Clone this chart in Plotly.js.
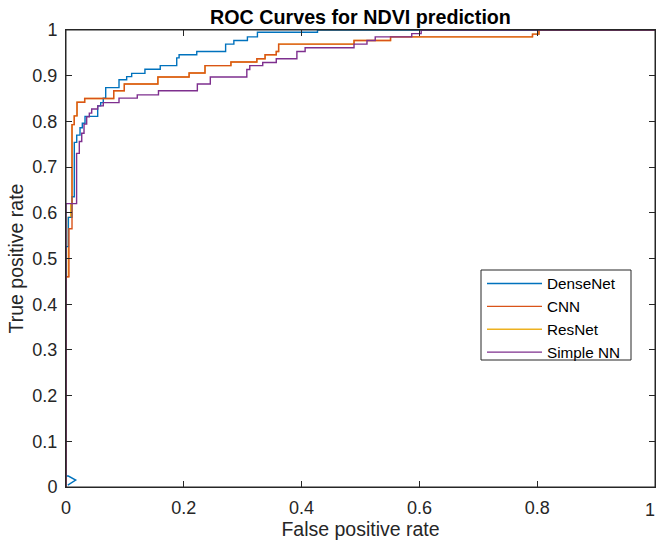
<!DOCTYPE html>
<html>
<head>
<meta charset="utf-8">
<script src="https://cdn.plot.ly/plotly-3.0.1.min.js"></script>
<style>html,body{margin:0;padding:0;background:#fff;overflow:hidden;}#chart{width:657px;height:543px;}</style>
</head>
<body>
<div id="chart"></div>
<script>
// ---- Data ----
var seriesNames = ["DenseNet", "CNN", "ResNet", "Simple NN"];

// Each (fpr[i], tpr[i]) is the corner reached after a step right then up.
var denseStartFpr = [0.003, 0.0165, 0.004, 0];
var denseStartTpr = [0.004, 0.015, 0.024, 0.024];
var denseFpr = [0, 0.004, 0.0102, 0.0141, 0.0182, 0.0238, 0.0277, 0.0323, 0.0538, 0.0589, 0.0633, 0.0674, 0.090, 0.103, 0.1115, 0.134, 0.160, 0.188, 0.192, 0.222, 0.271, 0.285, 0.308, 0.325, 0.427, 1];
var denseTpr = [0.526, 0.59, 0.635, 0.754, 0.770, 0.786, 0.796, 0.811, 0.834, 0.841, 0.851, 0.874, 0.891, 0.898, 0.905, 0.914, 0.922, 0.939, 0.946, 0.953, 0.969, 0.977, 0.985, 0.995, 1, 1];

var cnnFpr = [0, 0, 0.005, 0.0102, 0.014, 0.0187, 0.0317, 0.081, 0.099, 0.156, 0.209, 0.236, 0.280, 0.324, 0.338, 0.357, 0.361, 0.489, 0.551, 0.792, 0.803, 1];
var cnnTpr = [0, 0.46, 0.565, 0.793, 0.812, 0.842, 0.850, 0.867, 0.882, 0.897, 0.906, 0.922, 0.930, 0.937, 0.946, 0.953, 0.969, 0.977, 0.985, 0.991, 1, 1];

var resFpr = [0, 0, 0.004, 0.008, 0.0102, 0.014, 0.0187, 0.0317, 0.081, 0.099, 0.156, 0.209, 0.236, 0.280, 0.324, 0.338, 0.357, 0.361, 0.489, 0.551, 0.792, 0.803, 1];
var resTpr = [0, 0.46, 0.59, 0.62, 0.793, 0.812, 0.842, 0.850, 0.867, 0.882, 0.897, 0.906, 0.922, 0.930, 0.937, 0.946, 0.953, 0.969, 0.977, 0.985, 0.991, 1, 1];

var snnFpr = [0, 0, 0.018, 0.0226, 0.0267, 0.0306, 0.0351, 0.0396, 0.0436, 0.0538, 0.0633, 0.090, 0.121, 0.157, 0.223, 0.245, 0.307, 0.312, 0.334, 0.357, 0.392, 0.406, 0.489, 0.511, 0.525, 0.587, 0.603, 1];
var snnTpr = [0, 0.62, 0.730, 0.756, 0.774, 0.794, 0.810, 0.818, 0.827, 0.834, 0.841, 0.851, 0.858, 0.867, 0.882, 0.897, 0.9135, 0.922, 0.929, 0.937, 0.953, 0.961, 0.969, 0.977, 0.985, 0.992, 1, 1];

var xTicks = [0, 0.2, 0.4, 0.6, 0.8, 1];
var xTickText = ["0", "0.2", "0.4", "0.6", "0.8", "1"];
var yTicks = [0, 0.1, 0.2, 0.3, 0.4, 0.5, 0.6, 0.7, 0.8, 0.9, 1];
var yTickText = ["0", "0.1", "0.2", "0.3", "0.4", "0.5", "0.6", "0.7", "0.8", "0.9", "1"];

// ---- build step corners (right, then up) ----
function stairs(fx, fy, preX, preY) {
  var X = preX ? preX.slice() : [], Y = preY ? preY.slice() : [];
  var px = X.length ? X[X.length - 1] : null, py = Y.length ? Y[Y.length - 1] : null;
  for (var i = 0; i < fx.length; i++) {
    if (px !== null) { X.push(fx[i]); Y.push(py); }
    X.push(fx[i]); Y.push(fy[i]);
    px = fx[i]; py = fy[i];
  }
  return {x: X, y: Y};
}

var colors = {"DenseNet": "#0072BD", "CNN": "#D95319", "ResNet": "#EDB120", "Simple NN": "#7E2F8E"};
var dS = stairs(denseFpr, denseTpr, denseStartFpr, denseStartTpr);
var cS = stairs(cnnFpr, cnnTpr);
var rS = stairs(resFpr, resTpr);
var sS = stairs(snnFpr, snnTpr);

function tr(name, s, rank) {
  return {x: s.x, y: s.y, name: name, type: "scatter", mode: "lines",
          line: {color: colors[name], width: 1.4}, legendrank: rank, hoverinfo: "skip"};
}
var data = [
  tr(seriesNames[2], rS, 3),
  tr(seriesNames[0], dS, 1),
  tr(seriesNames[1], cS, 2),
  tr(seriesNames[3], sS, 4)
];

var font = "Liberation Sans, Arial, Helvetica, sans-serif";
var axCol = "#262626";
var W = 657, H = 543, L = 66, R = 2, T = 30, B = 56;
var pw = W - L - R, ph = H - T - B;
function pxX(p) { return (p - L) / pw; }
function pxY(p) { return (H - B - p) / ph; }

// the last x tick label sits at the page edge: draw it right-aligned so it stays inside
var xTickShown = xTickText.slice(0, xTickText.length - 1).concat([""]);

var layout = {
  width: W, height: H,
  margin: {l: L, r: R, t: T, b: B, pad: 0},
  paper_bgcolor: "#ffffff", plot_bgcolor: "#ffffff",
  font: {family: font, color: axCol},
  showlegend: true,
  title: {text: "<b>ROC Curves for NDVI prediction</b>", font: {family: font, size: 19.7, color: "#000"},
          x: 0.5, xref: "paper", y: 1 - 17 / H, yref: "container", yanchor: "middle"},
  xaxis: {range: [0, 1], tickvals: xTicks, ticktext: xTickShown, ticks: "inside", ticklen: 6,
          tickcolor: axCol, showline: true, linecolor: axCol, linewidth: 1, mirror: "allticks",
          showgrid: false, zeroline: false, tickfont: {size: 18, color: axCol}, ticklabelstandoff: 4,
          title: {text: "False positive rate", font: {size: 19.5, color: axCol}, standoff: 0}},
  yaxis: {range: [0, 1], tickvals: yTicks, ticktext: yTickText, ticks: "inside", ticklen: 6,
          tickcolor: axCol, showline: true, linecolor: axCol, linewidth: 1, mirror: "allticks",
          showgrid: false, zeroline: false, tickfont: {size: 18, color: axCol}, ticklabelstandoff: 4,
          title: {text: "True positive rate", font: {size: 19.5, color: axCol}, standoff: 3}},
  annotations: [
    {text: xTickText[xTickText.length - 1], xref: "paper", yref: "paper", x: xTicks[xTicks.length - 1] + 1.5 / pw,
     y: 0, yshift: -11, xanchor: "right", yanchor: "top", showarrow: false,
     font: {family: font, size: 18, color: axCol}}
  ],
  shapes: [
    {type: "rect", xref: "paper", yref: "paper", x0: 0, x1: 1, y0: 0, y1: 1,
     line: {color: axCol, width: 1}, fillcolor: "rgba(0,0,0,0)", layer: "above"},
    {type: "rect", xref: "paper", yref: "paper", x0: pxX(481), x1: pxX(631), y0: pxY(360), y1: pxY(270),
     line: {color: axCol, width: 1}, fillcolor: "#ffffff", layer: "above"}
  ],
  legend: {x: pxX(482), y: pxY(267), xanchor: "left", yanchor: "top",
           bgcolor: "rgba(0,0,0,0)", borderwidth: 0,
           font: {size: 15.3, color: "#000"}, itemwidth: 55, tracegroupgap: 0}
};

Plotly.newPlot("chart", data, layout, {displayModeBar: false, staticPlot: true});
</script>
</body>
</html>
